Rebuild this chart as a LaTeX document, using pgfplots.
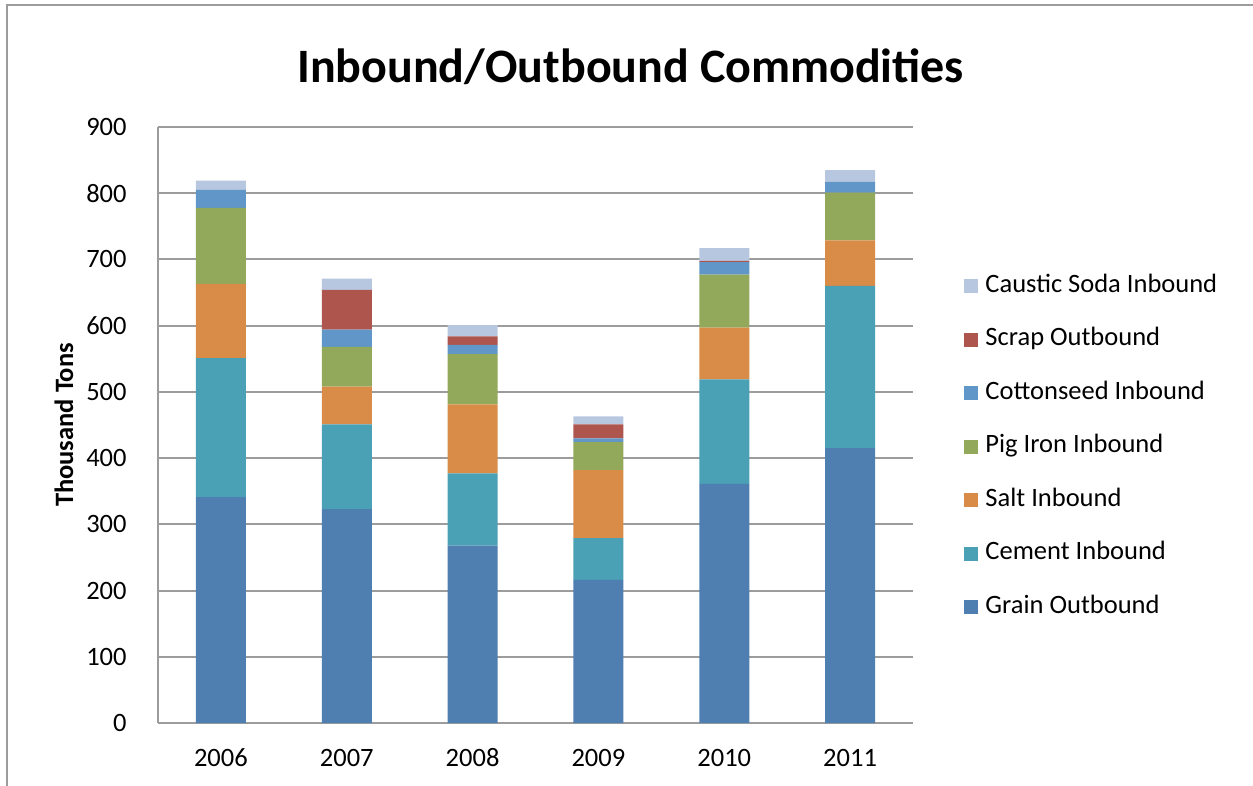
\documentclass[border=0pt]{standalone}
\usepackage{pgfplots}
\pgfplotsset{compat=1.18}
\usepackage{fontspec}
\setmainfont{Carlito}
\definecolor{cgrain}{HTML}{4F7EB0}
\definecolor{ccement}{HTML}{4AA0B5}
\definecolor{csalt}{HTML}{D88C47}
\definecolor{cpig}{HTML}{92A85A}
\definecolor{ccotton}{HTML}{6096C8}
\definecolor{cscrap}{HTML}{AE554E}
\definecolor{ccaustic}{HTML}{B8C7E0}
\definecolor{cgrid}{HTML}{9C9C9C}
\begin{document}
\begin{tikzpicture}
\useasboundingbox (0,0) rectangle (626.5pt,-393pt);
\draw[cgrid, line width=1pt] (3.5pt,-393pt) -- (3.5pt,-2.5pt) -- (626.5pt,-2.5pt);
\node[anchor=base, font=\bfseries\fontsize{24}{28}\selectfont] at (315.25pt,-41.5pt) {Inbound/Outbound Commodities};
\begin{axis}[
  at={(79pt,-361.5pt)}, anchor=south west,
  scale only axis, width=377.5pt, height=298pt,
  ybar stacked, bar width=25pt,
  xmin=-0.5, xmax=5.5, ymin=0, ymax=900,
  xtick={0,1,2,3,4,5},
  xticklabels={2006,2007,2008,2009,2010,2011},
  ytick={0,100,...,900},
  major tick length=0pt,
  axis x line*=bottom, axis y line*=left,
  axis line style={cgrid, line width=0.8pt},
  ymajorgrids, major grid style={cgrid, line width=1pt},
  /pgf/number format/assume math mode=true,
  tick label style={font=\fontsize{13.25}{15}\selectfont},
  yticklabel style={anchor=east, inner sep=0pt, xshift=-15.5pt},
  xticklabel style={anchor=center, inner sep=0pt, yshift=-17.5pt},
  every axis y label/.style={at={(axis description cs:-0.1245,0.5)}, rotate=90, anchor=center, font=\bfseries\fontsize{13.25}{15}\selectfont},
  ylabel={Thousand Tons},
  legend cell align=left,
  reverse legend,
  legend image code/.code={\fill[#1] (0pt,-3.5pt) rectangle (7pt,3.5pt);},
  legend style={draw=none, fill=none, at={(1.0597,0.76)}, anchor=north west,
    font=\fontsize{13.25}{15}\selectfont, row sep=14.75pt, column sep=3.5pt,
    nodes={inner sep=0pt, text height=9pt, text depth=3pt}},
  every axis plot/.append style={draw=none},
]
\addplot[fill=cgrain] coordinates {(0,341) (1,323) (2,268) (3,216) (4,361) (5,415)};
\addlegendentry{Grain Outbound}
\addplot[fill=ccement] coordinates {(0,210) (1,128) (2,109) (3,63) (4,158) (5,245)};
\addlegendentry{Cement Inbound}
\addplot[fill=csalt] coordinates {(0,112) (1,57) (2,104) (3,103) (4,78) (5,69)};
\addlegendentry{Salt Inbound}
\addplot[fill=cpig] coordinates {(0,115) (1,60) (2,76) (3,42) (4,80) (5,72)};
\addlegendentry{Pig Iron Inbound}
\addplot[fill=ccotton] coordinates {(0,27) (1,26) (2,14) (3,6) (4,19) (5,16)};
\addlegendentry{Cottonseed Inbound}
\addplot[fill=cscrap] coordinates {(0,0) (1,60) (2,13) (3,21) (4,2) (5,0)};
\addlegendentry{Scrap Outbound}
\addplot[fill=ccaustic] coordinates {(0,14) (1,17) (2,17) (3,12) (4,19) (5,18)};
\addlegendentry{Caustic Soda Inbound}
\end{axis}
\end{tikzpicture}
\end{document}
